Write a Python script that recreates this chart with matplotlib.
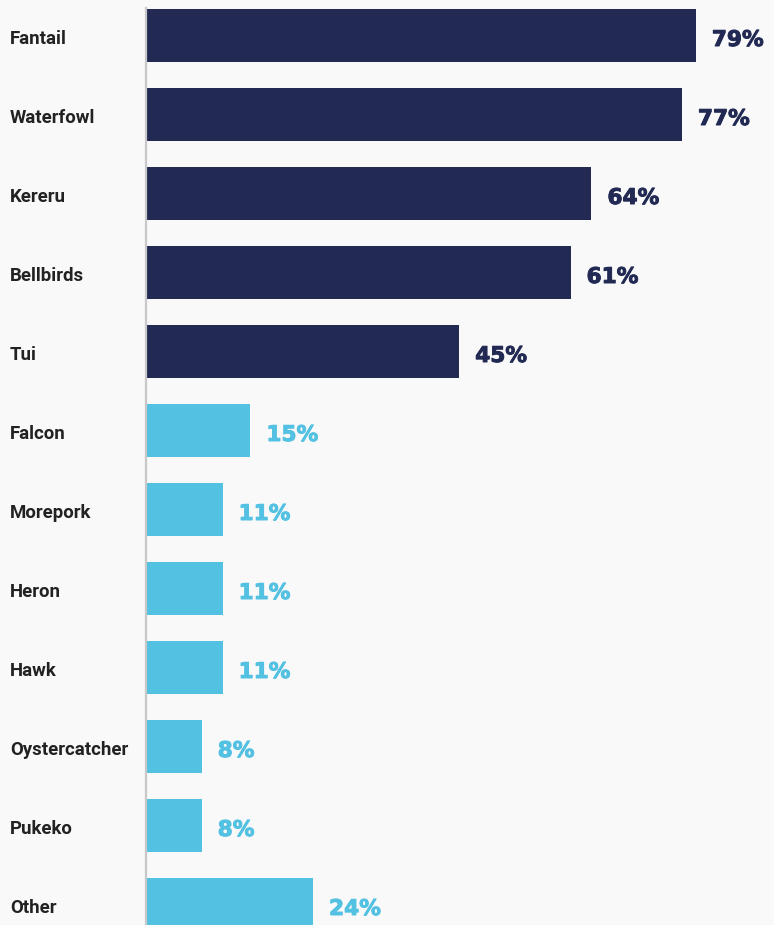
import matplotlib
matplotlib.use("Agg")
import matplotlib.pyplot as plt
from matplotlib import transforms
import matplotlib.patheffects as pe

# Share of respondents reporting each bird
birds = ["Fantail", "Waterfowl", "Kereru", "Bellbirds", "Tui", "Falcon",
         "Morepork", "Heron", "Hawk", "Oystercatcher", "Pukeko", "Other"]
values = [79, 77, 64, 61, 45, 15, 11, 11, 11, 8, 8, 24]
groups = ["top", "top", "top", "top", "top", "rest",
          "rest", "rest", "rest", "rest", "rest", "rest"]

NAVY = "#222a54"
SKY = "#53c1e2"
BG = "#f9f9f9"
palette = {"top": NAVY, "rest": SKY}

W, H, DPI = 774, 925, 100
fig = plt.figure(figsize=(W / DPI, H / DPI), dpi=DPI, facecolor=BG)

left_px, top_px = 146, 8
ax = fig.add_axes([left_px / W, 0, (W - left_px) / W, (H - top_px) / H])
ax.set_facecolor(BG)

pitch = 79.0
first_center = 35.5
px_per_unit = 6.96
ax.set_ylim((H - first_center) / pitch, (top_px - first_center) / pitch)
ax.set_xlim(0, (W - left_px) / px_per_unit)

ypos = list(range(len(birds)))
colors = [palette[g] for g in groups]
ax.barh(ypos, values, height=53 / pitch, color=colors, zorder=2)

for s in ["top", "right", "bottom"]:
    ax.spines[s].set_visible(False)
ax.spines["left"].set_color("#c8c8c8")
ax.spines["left"].set_linewidth(1.6)
ax.spines["left"].set_zorder(3)
ax.set_xticks([])
ax.set_yticks([])

pt = 72.0 / DPI  # points per pixel

label_tf = transforms.blended_transform_factory(fig.transFigure, ax.transData)
for y, name in zip(ypos, birds):
    ax.annotate(name, xy=(10 / W, y), xycoords=label_tf,
                xytext=(0, -8.5 * pt), textcoords="offset points",
                ha="left", va="baseline", fontsize=13.4, fontweight="bold",
                family=["Roboto", "DejaVu Sans"], color="#222222",
                annotation_clip=False)

for y, v, c in zip(ypos, values, colors):
    ax.annotate(f"{v}%", xy=(v, y), xytext=(16 * pt, -10.5 * pt),
                textcoords="offset points", ha="left", va="baseline",
                fontsize=15.6, fontweight="bold", family=["DejaVu Sans"],
                color=c, annotation_clip=False,
                path_effects=[pe.withStroke(linewidth=0.7, foreground=c)])

fig.savefig("out.png", dpi=DPI, facecolor=BG)
